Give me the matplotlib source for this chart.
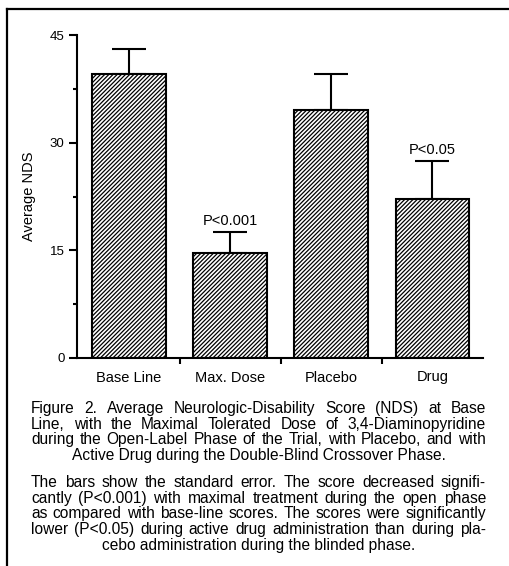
import numpy as np
import matplotlib
matplotlib.use('Agg')
import matplotlib.pyplot as plt
from matplotlib.lines import Line2D

plt.rcParams['font.family'] = ['Liberation Sans', 'DejaVu Sans']
plt.rcParams['hatch.linewidth'] = 0.9

# data
categories = ['Base Line', 'Max. Dose', 'Placebo', 'Drug']
means = [39.5, 14.6, 34.5, 22.2]
std_err = [3.5, 2.9, 5.0, 5.2]
p_labels = ['', 'P<0.001', '', 'P<0.05']
y_ticks = [0, 15, 30, 45]

caption_1 = [
    'Figure 2. Average Neurologic-Disability Score (NDS) at Base',
    'Line, with the Maximal Tolerated Dose of 3,4-Diaminopyridine',
    'during the Open-Label Phase of the Trial, with Placebo, and with',
    'Active Drug during the Double-Blind Crossover Phase.',
]
caption_2 = [
    'The bars show the standard error. The score decreased signifi-',
    'cantly (P<0.001) with maximal treatment during the open phase',
    'as compared with base-line scores. The scores were significantly',
    'lower (P<0.05) during active drug administration than during pla-',
    'cebo administration during the blinded phase.',
]

W, H = 509, 566
fig = plt.figure(figsize=(W / 100, H / 100), dpi=100)
ax = fig.add_axes([77 / W, 1 - 358 / H, (483 - 77) / W, (358 - 35) / H])

x = np.arange(len(categories))
ax.bar(x, means, width=0.73, color='white', edgecolor='black',
       linewidth=1.5, hatch='/' * 8, zorder=2)
ax.errorbar(x, means, yerr=[np.zeros(len(means)), std_err], fmt='none',
            ecolor='black', elinewidth=1.5, capsize=12, capthick=1.5, zorder=1)

for xi, m, e, p in zip(x, means, std_err, p_labels):
    if p:
        ax.annotate(p, (xi, m + e), xytext=(0, 3), textcoords='offset points',
                    ha='center', va='bottom', fontsize=10.5)

ax.set_xlim(-0.515, 3.5)
ax.set_ylim(0, 45)
ax.set_yticks(y_ticks)
ax.set_yticks([7.5, 22.5, 37.5], minor=True)
ax.set_xticks(x)
ax.set_xticklabels(categories, fontsize=10.5)
ax.set_xticks([0.5, 1.5, 2.5], minor=True)
ax.tick_params(axis='x', which='major', length=0, pad=9)
ax.tick_params(axis='x', which='minor', length=4, width=1.5, direction='out')
ax.tick_params(axis='y', which='major', length=6, width=1.5, labelsize=9.5, pad=3)
ax.tick_params(axis='y', which='minor', length=3, width=1.5)
ax.set_ylabel('Average NDS', fontsize=10.5, labelpad=10)

for s in ['top', 'right']:
    ax.spines[s].set_visible(False)
for s in ['left', 'bottom']:
    ax.spines[s].set_linewidth(1.5)

# frame round the figure (cropped on right and bottom)
fig.add_artist(Line2D([7 / W, 7 / W], [0, 1 - 9 / H], transform=fig.transFigure,
                      color='black', linewidth=1.6))
fig.add_artist(Line2D([7 / W, 1], [1 - 9 / H, 1 - 9 / H], transform=fig.transFigure,
                      color='black', linewidth=1.6))

# justified caption
renderer = fig.canvas.get_renderer()
x0, x1 = 31, 486
fs = 11.2


def put_line(line, y, last):
    yy = 1 - (y + 5) / H
    if last:
        fig.text(0.5 * (x0 + x1) / W, yy, line, ha='center', va='baseline', fontsize=fs)
        return
    words = line.split(' ')
    texts = [fig.text(0, yy, w, ha='left', va='baseline', fontsize=fs) for w in words]
    widths = [t.get_window_extent(renderer).width for t in texts]
    gap = (x1 - x0 - sum(widths)) / (len(words) - 1)
    pos = x0
    for t, w in zip(texts, widths):
        t.set_x(pos / W)
        pos += w + gap


for i, line in enumerate(caption_1):
    put_line(line, 408 + 15.7 * i, i == len(caption_1) - 1)
for i, line in enumerate(caption_2):
    put_line(line, 482 + 15.7 * i, i == len(caption_2) - 1)

fig.savefig('out.png', dpi=100)
